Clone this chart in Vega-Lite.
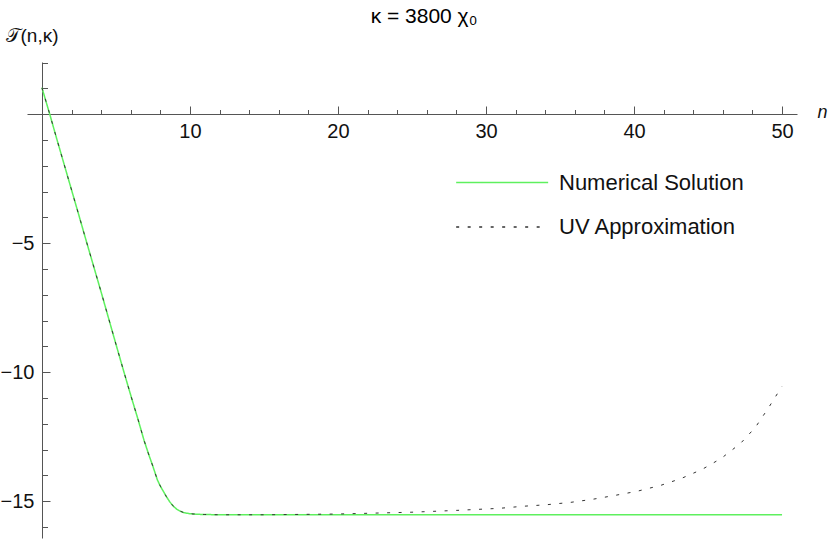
{
  "$schema": "https://vega.github.io/schema/vega-lite/v6.json",
  "width": 770,
  "height": 476,
  "autosize": {"type": "none"},
  "padding": {"left": 27, "top": 62, "right": 33, "bottom": 2},
  "background": "white",
  "config": {"view": {"stroke": null}, "font": "Liberation Sans"},
  "title": {"text": "κ = 3800 χ₀", "fontSize": 21, "font": "Liberation Sans", "fontWeight": "normal", "color": "black", "anchor": "middle", "frame": "group", "baseline": "alphabetic", "offset": 0, "dx": 12, "dy": 17.5},
  "data": {"values": [
    {"series": "Numerical Solution", "n": 0, "T": 1.02},
    {"series": "Numerical Solution", "n": 0.5, "T": 0.05},
    {"series": "Numerical Solution", "n": 1, "T": -0.96},
    {"series": "Numerical Solution", "n": 2, "T": -2.94},
    {"series": "Numerical Solution", "n": 2.5, "T": -3.93},
    {"series": "Numerical Solution", "n": 3, "T": -4.93},
    {"series": "Numerical Solution", "n": 4, "T": -6.90},
    {"series": "Numerical Solution", "n": 5, "T": -8.92},
    {"series": "Numerical Solution", "n": 5.5, "T": -9.92},
    {"series": "Numerical Solution", "n": 6, "T": -10.90},
    {"series": "Numerical Solution", "n": 6.5, "T": -11.85},
    {"series": "Numerical Solution", "n": 6.9, "T": -12.65},
    {"series": "Numerical Solution", "n": 7.2, "T": -13.17},
    {"series": "Numerical Solution", "n": 7.5, "T": -13.66},
    {"series": "Numerical Solution", "n": 7.8, "T": -14.18},
    {"series": "Numerical Solution", "n": 8.0, "T": -14.42},
    {"series": "Numerical Solution", "n": 8.2, "T": -14.62},
    {"series": "Numerical Solution", "n": 8.4, "T": -14.82},
    {"series": "Numerical Solution", "n": 8.65, "T": -15.04},
    {"series": "Numerical Solution", "n": 8.9, "T": -15.21},
    {"series": "Numerical Solution", "n": 9.1, "T": -15.31},
    {"series": "Numerical Solution", "n": 9.3, "T": -15.38},
    {"series": "Numerical Solution", "n": 9.6, "T": -15.45},
    {"series": "Numerical Solution", "n": 10, "T": -15.49},
    {"series": "Numerical Solution", "n": 10.5, "T": -15.51},
    {"series": "Numerical Solution", "n": 11, "T": -15.52},
    {"series": "Numerical Solution", "n": 12, "T": -15.53},
    {"series": "Numerical Solution", "n": 20, "T": -15.53},
    {"series": "Numerical Solution", "n": 30, "T": -15.53},
    {"series": "Numerical Solution", "n": 40, "T": -15.53},
    {"series": "Numerical Solution", "n": 50, "T": -15.53},
    {"series": "UV Approximation", "n": 0, "T": 1.02},
    {"series": "UV Approximation", "n": 0.5, "T": 0.05},
    {"series": "UV Approximation", "n": 1, "T": -0.96},
    {"series": "UV Approximation", "n": 2, "T": -2.94},
    {"series": "UV Approximation", "n": 2.5, "T": -3.93},
    {"series": "UV Approximation", "n": 3, "T": -4.93},
    {"series": "UV Approximation", "n": 4, "T": -6.90},
    {"series": "UV Approximation", "n": 5, "T": -8.92},
    {"series": "UV Approximation", "n": 5.5, "T": -9.92},
    {"series": "UV Approximation", "n": 6, "T": -10.90},
    {"series": "UV Approximation", "n": 6.5, "T": -11.85},
    {"series": "UV Approximation", "n": 6.9, "T": -12.65},
    {"series": "UV Approximation", "n": 7.2, "T": -13.17},
    {"series": "UV Approximation", "n": 7.5, "T": -13.66},
    {"series": "UV Approximation", "n": 7.8, "T": -14.18},
    {"series": "UV Approximation", "n": 8.0, "T": -14.42},
    {"series": "UV Approximation", "n": 8.2, "T": -14.62},
    {"series": "UV Approximation", "n": 8.4, "T": -14.82},
    {"series": "UV Approximation", "n": 8.65, "T": -15.04},
    {"series": "UV Approximation", "n": 8.9, "T": -15.21},
    {"series": "UV Approximation", "n": 9.1, "T": -15.31},
    {"series": "UV Approximation", "n": 9.3, "T": -15.38},
    {"series": "UV Approximation", "n": 9.6, "T": -15.45},
    {"series": "UV Approximation", "n": 10, "T": -15.49},
    {"series": "UV Approximation", "n": 10.5, "T": -15.51},
    {"series": "UV Approximation", "n": 11, "T": -15.52},
    {"series": "UV Approximation", "n": 12, "T": -15.53},
    {"series": "UV Approximation", "n": 15, "T": -15.53},
    {"series": "UV Approximation", "n": 20, "T": -15.50},
    {"series": "UV Approximation", "n": 25, "T": -15.43},
    {"series": "UV Approximation", "n": 28, "T": -15.36},
    {"series": "UV Approximation", "n": 30.9, "T": -15.28},
    {"series": "UV Approximation", "n": 32.5, "T": -15.20},
    {"series": "UV Approximation", "n": 34.1, "T": -15.14},
    {"series": "UV Approximation", "n": 35.7, "T": -15.05},
    {"series": "UV Approximation", "n": 37.2, "T": -14.93},
    {"series": "UV Approximation", "n": 38.7, "T": -14.78},
    {"series": "UV Approximation", "n": 40.2, "T": -14.62},
    {"series": "UV Approximation", "n": 41.8, "T": -14.39},
    {"series": "UV Approximation", "n": 43.2, "T": -14.12},
    {"series": "UV Approximation", "n": 44.6, "T": -13.77},
    {"series": "UV Approximation", "n": 45.9, "T": -13.34},
    {"series": "UV Approximation", "n": 47.2, "T": -12.76},
    {"series": "UV Approximation", "n": 48.2, "T": -12.14},
    {"series": "UV Approximation", "n": 49.1, "T": -11.37},
    {"series": "UV Approximation", "n": 50, "T": -10.55}
  ]},
  "layer": [
    {
      "transform": [{"filter": "datum.series === 'Numerical Solution'"}],
      "mark": {"type": "line", "strokeWidth": 1.5},
      "encoding": {
        "x": {"field": "n", "type": "quantitative",
          "scale": {"domain": [-1.01, 51.01], "nice": false, "zero": false},
          "axis": {"orient": "bottom", "offset": -424, "values": [10, 20, 30, 40, 50], "tickSize": -8, "tickColor": "#555", "tickWidth": 1, "domainColor": "#555", "domainWidth": 1, "labelPadding": 15.6, "labelFontSize": 20, "labelFont": "Liberation Sans", "labelColor": "#111", "labelFlush": false, "labelOverlap": false, "grid": false,
            "title": "n", "titleFont": "Liberation Sans", "titleFontStyle": "italic", "titleFontWeight": "normal", "titleFontSize": 18, "titleColor": "#111", "titleX": 795, "titleY": 3.3, "titleAlign": "center", "titleBaseline": "alphabetic", "titleAngle": 0}},
        "y": {"field": "T", "type": "quantitative",
          "scale": {"domain": [-16.43, 2.02], "nice": false, "zero": false},
          "axis": {"orient": "left", "offset": -15, "values": [-15, -10, -5], "tickSize": -8, "tickColor": "#555", "tickWidth": 1, "domainColor": "#555", "domainWidth": 1, "labelPadding": 16, "labelFontSize": 20, "labelFont": "Liberation Sans", "labelColor": "#111", "labelFlush": false, "labelOverlap": false, "grid": false,
            "title": "𝒯(n,κ)", "titleFont": "Liberation Sans", "titleFontWeight": "normal", "titleFontSize": 19, "titleColor": "#111", "titleX": -37, "titleY": -20.5, "titleAlign": "left", "titleBaseline": "alphabetic", "titleAngle": 0}},
        "color": {"field": "series", "type": "nominal",
          "scale": {"domain": ["Numerical Solution", "UV Approximation"], "range": ["#5ef05e", "#333333"]},
          "legend": {"title": null, "orient": "none", "legendX": 428, "legendY": 104, "symbolType": "M-1,0H5", "symbolSize": 940, "symbolStrokeWidth": 1.5, "labelFontSize": 22, "labelFont": "Liberation Sans", "labelColor": "#111", "labelOffset": 71, "labelLimit": 0, "rowPadding": 16.5, "padding": 0}},
        "strokeDash": {"field": "series", "type": "nominal",
          "scale": {"domain": ["Numerical Solution", "UV Approximation"], "range": [[1, 0], [3, 8.5]]},
          "legend": {"title": null, "orient": "none", "legendX": 428, "legendY": 104, "symbolType": "M-1,0H5", "symbolSize": 940, "symbolStrokeWidth": 1.5, "labelFontSize": 22, "labelFont": "Liberation Sans", "labelColor": "#111", "labelOffset": 71, "labelLimit": 0, "rowPadding": 16.5, "padding": 0}}
      }
    },
    {
      "transform": [{"filter": "datum.series === 'UV Approximation'"}],
      "mark": {"type": "line", "strokeWidth": 1},
      "encoding": {
        "x": {"field": "n", "type": "quantitative",
          "axis": {"orient": "bottom", "offset": -424, "values": [2, 4, 6, 8, 12, 14, 16, 18, 22, 24, 26, 28, 32, 34, 36, 38, 42, 44, 46, 48], "tickSize": -4.5, "tickColor": "#555", "tickWidth": 1, "domain": false, "labels": false, "grid": false, "title": null}},
        "y": {"field": "T", "type": "quantitative",
          "axis": {"orient": "left", "offset": -15, "values": [-16, -14, -13, -12, -11, -9, -8, -7, -6, -4, -3, -2, -1, 1, 2], "tickSize": -5.5, "tickColor": "#555", "tickWidth": 1, "domain": false, "labels": false, "grid": false, "title": null}},
        "color": {"field": "series", "type": "nominal"},
        "strokeDash": {"field": "series", "type": "nominal"}
      }
    }
  ],
  "resolve": {"axis": {"x": "independent", "y": "independent"}}
}
